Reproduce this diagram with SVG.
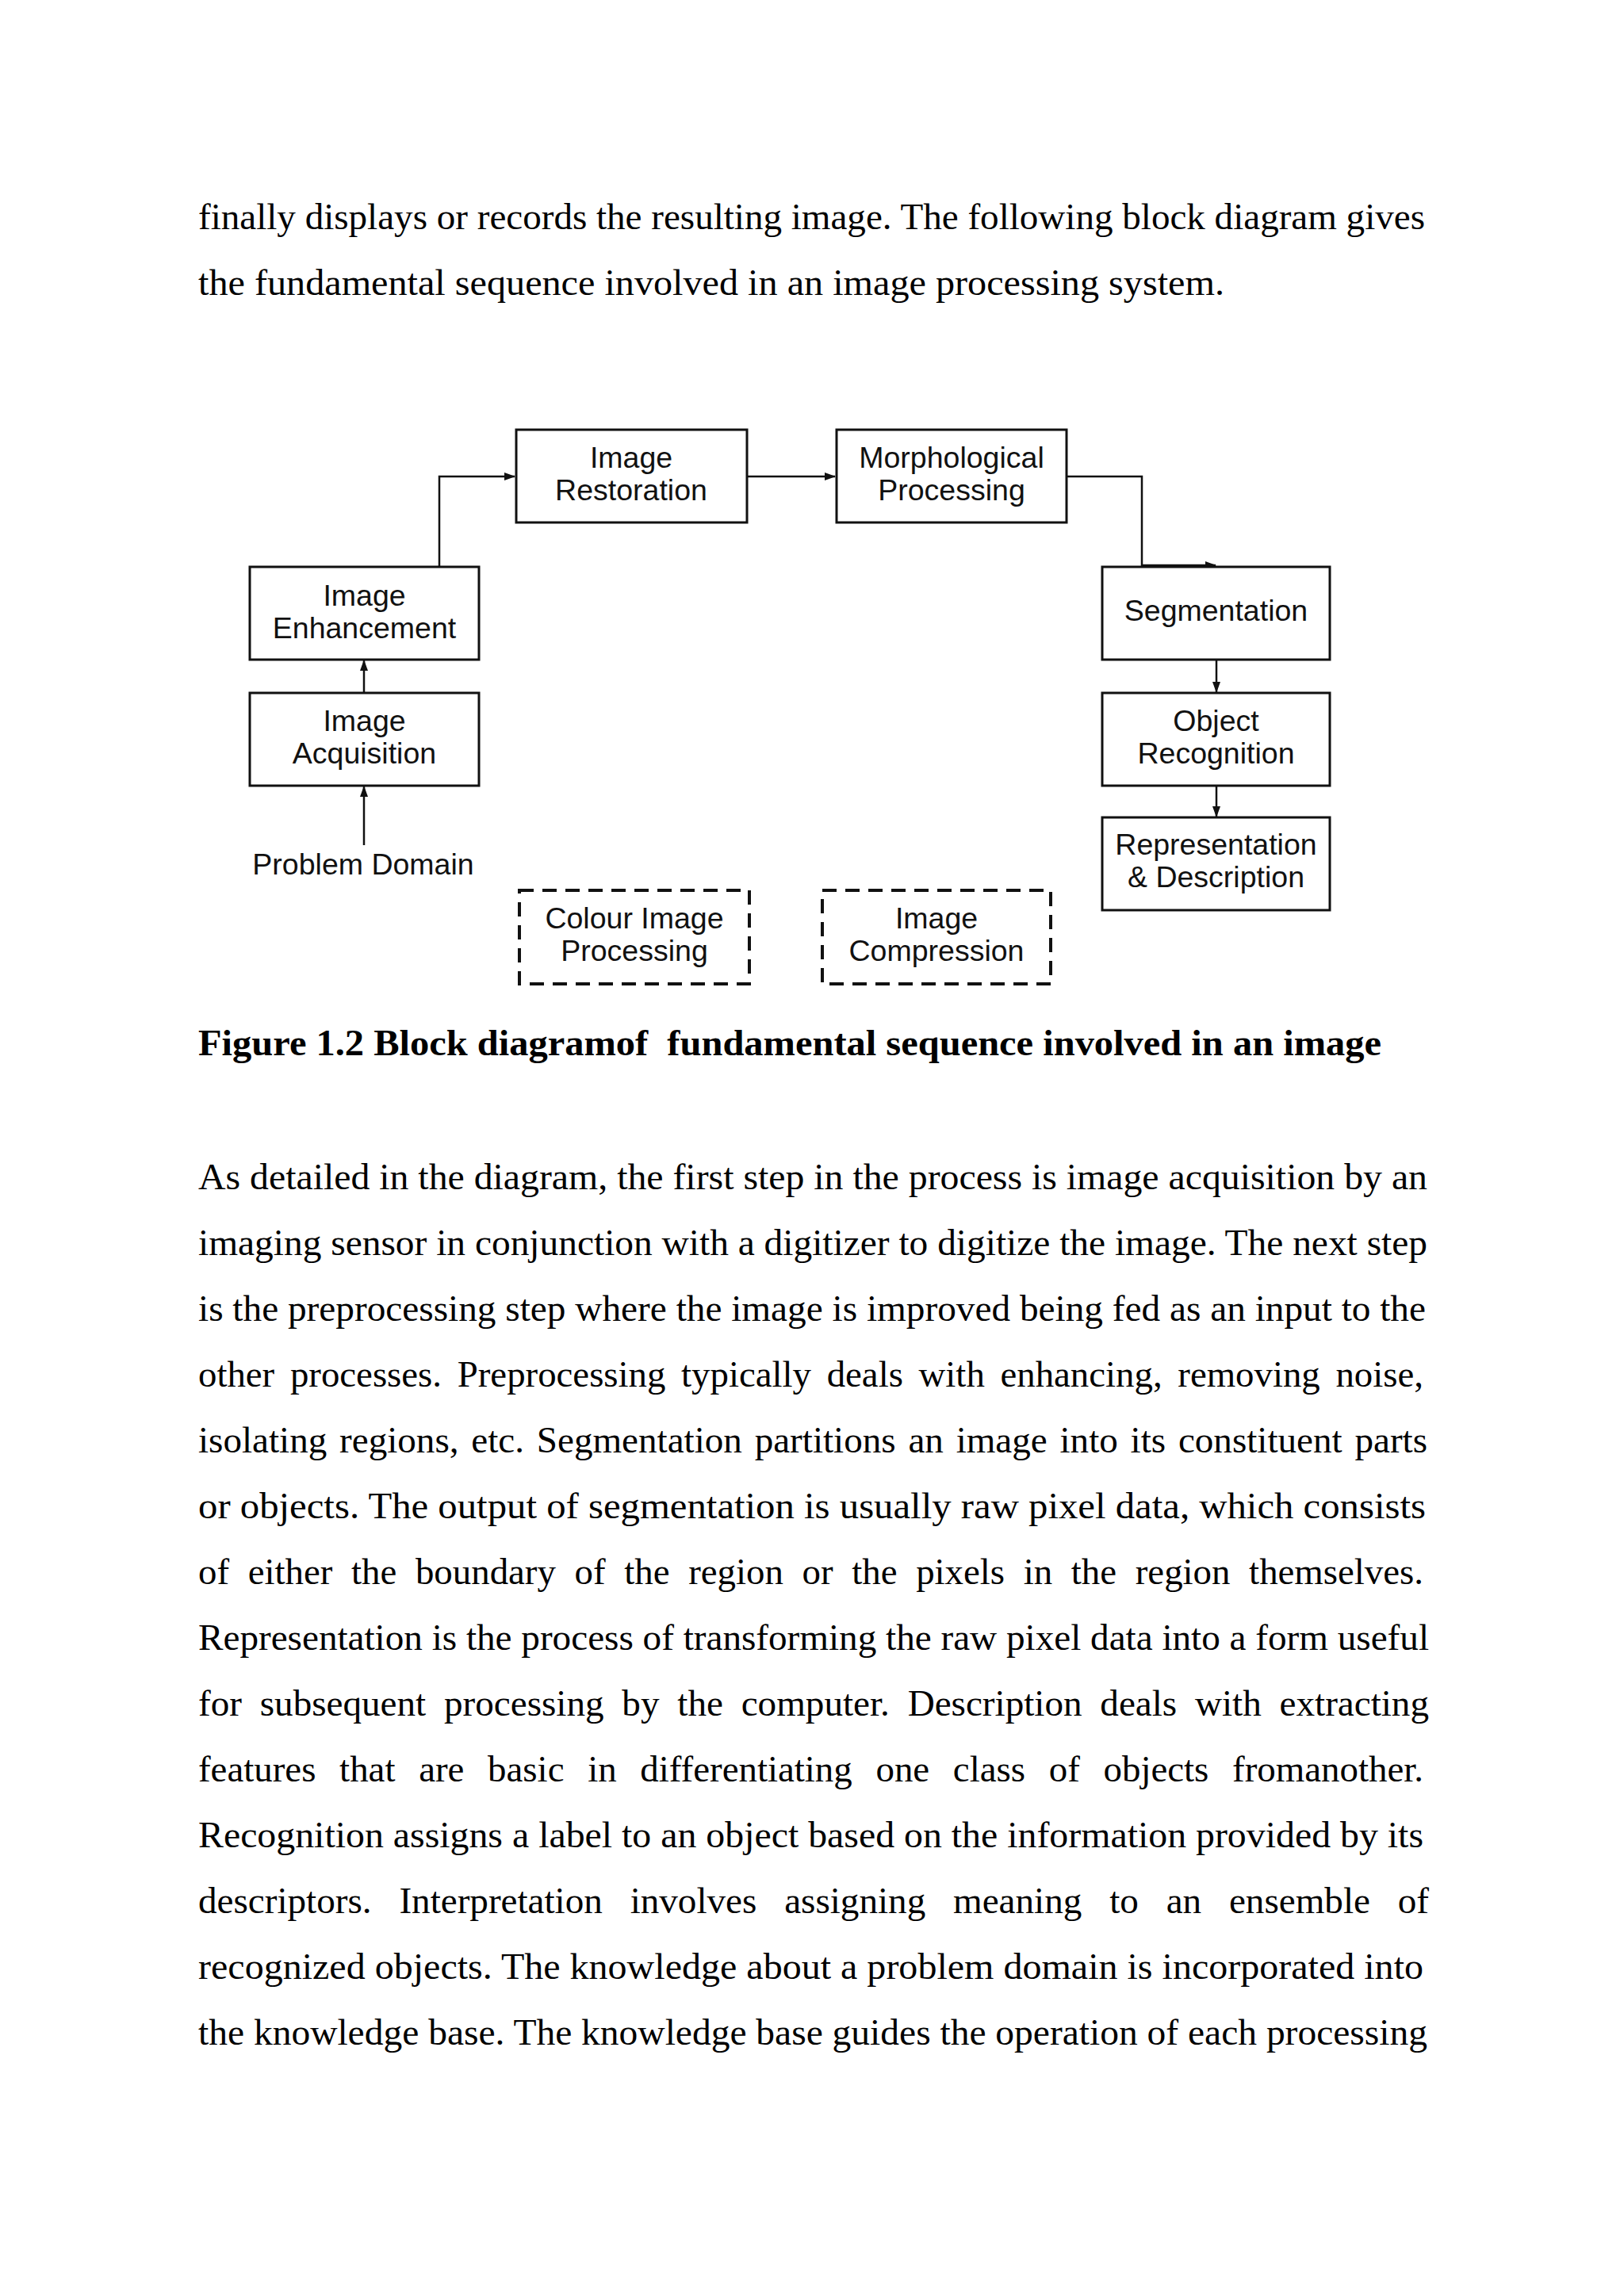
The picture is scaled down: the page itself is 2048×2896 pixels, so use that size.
<svg xmlns="http://www.w3.org/2000/svg" width="2048" height="2896" viewBox="0 0 2048 2896">
<defs>
<style>
.body{font-family:"Liberation Serif","Times New Roman",serif;font-size:47px;fill:#000}
.cap{font-family:"Liberation Serif","Times New Roman",serif;font-size:47px;font-weight:bold;fill:#000;white-space:pre}
.lbl{font-family:"Liberation Sans",Arial,sans-serif;font-size:37.5px;fill:#111;text-anchor:middle}
.box{fill:#fff;stroke:#111;stroke-width:3}
.dbox{fill:none;stroke:#111;stroke-width:4;stroke-dasharray:18 11}
.con{fill:none;stroke:#111;stroke-width:2.5}
</style>
<marker id="arr" markerWidth="14" markerHeight="10" refX="13" refY="5" orient="auto" markerUnits="userSpaceOnUse">
<path d="M0,0 L14,5 L0,10 z" fill="#111"/>
</marker>
</defs>
<rect x="0" y="0" width="2048" height="2896" fill="#fff"/>

<g id="intro-text">
<text class="body" x="250" y="289" textLength="1547" lengthAdjust="spacingAndGlyphs">finally displays or records the resulting image. The following block diagram gives</text>
<text class="body" x="250" y="372" textLength="1294" lengthAdjust="spacingAndGlyphs">the fundamental sequence involved in an image processing system.</text>
</g>

<g id="connectors">
<polyline class="con" points="554,715 554,601 649,601" marker-end="url(#arr)"/>
<line class="con" x1="942" y1="601" x2="1053" y2="601" marker-end="url(#arr)"/>
<polyline class="con" points="1345,601 1440,601 1440,713 1533,713" marker-end="url(#arr)"/>
<line class="con" x1="1534" y1="832" x2="1534" y2="873" marker-end="url(#arr)"/>
<line class="con" x1="1534" y1="991" x2="1534" y2="1030" marker-end="url(#arr)"/>
<line class="con" x1="459" y1="874" x2="459" y2="833" marker-end="url(#arr)"/>
<line class="con" x1="459" y1="1066" x2="459" y2="992" marker-end="url(#arr)"/>
</g>

<g id="image-restoration">
<rect class="box" x="651" y="542" width="291" height="117"/>
<text class="lbl" x="796" y="590">Image</text>
<text class="lbl" x="796" y="631">Restoration</text>
</g>

<g id="morphological-processing">
<rect class="box" x="1055" y="542" width="290" height="117"/>
<text class="lbl" x="1200" y="590">Morphological</text>
<text class="lbl" x="1200" y="631">Processing</text>
</g>

<g id="image-enhancement">
<rect class="box" x="315" y="715" width="289" height="117"/>
<text class="lbl" x="459.5" y="764">Image</text>
<text class="lbl" x="459.5" y="805">Enhancement</text>
</g>

<g id="image-acquisition">
<rect class="box" x="315" y="874" width="289" height="117"/>
<text class="lbl" x="459.5" y="922">Image</text>
<text class="lbl" x="459.5" y="963">Acquisition</text>
</g>

<g id="segmentation">
<rect class="box" x="1390" y="715" width="287" height="117"/>
<text class="lbl" x="1533.5" y="783">Segmentation</text>
</g>

<g id="object-recognition">
<rect class="box" x="1390" y="874" width="287" height="117"/>
<text class="lbl" x="1533.5" y="922">Object</text>
<text class="lbl" x="1533.5" y="963">Recognition</text>
</g>

<g id="representation-description">
<rect class="box" x="1390" y="1031" width="287" height="117"/>
<text class="lbl" x="1533.5" y="1078">Representation</text>
<text class="lbl" x="1533.5" y="1119">&amp; Description</text>
</g>

<g id="problem-domain">
<text class="lbl" x="458" y="1103">Problem Domain</text>
</g>

<g id="colour-image-processing">
<rect class="dbox" x="655" y="1123" width="290" height="118"/>
<text class="lbl" x="800" y="1171">Colour Image</text>
<text class="lbl" x="800" y="1212">Processing</text>
</g>

<g id="image-compression">
<rect class="dbox" x="1037" y="1123" width="288" height="118"/>
<text class="lbl" x="1181" y="1171">Image</text>
<text class="lbl" x="1181" y="1212">Compression</text>
</g>

<g id="caption">
<text class="cap" x="250" y="1331" textLength="1492" lengthAdjust="spacingAndGlyphs">Figure 1.2 Block diagramof  fundamental sequence involved in an image</text>
</g>

<g id="paragraph">
<text class="body" x="250" y="1500" textLength="1550" lengthAdjust="spacingAndGlyphs">As detailed in the diagram, the first step in the process is image acquisition by an</text>
<text class="body" x="250" y="1583" textLength="1550" lengthAdjust="spacingAndGlyphs">imaging sensor in conjunction with a digitizer to digitize the image. The next step</text>
<text class="body" x="250" y="1666" textLength="1548" lengthAdjust="spacingAndGlyphs">is the preprocessing step where the image is improved being fed as an input to the</text>
<text class="body" x="250" y="1749" textLength="1545" lengthAdjust="spacingAndGlyphs" word-spacing="8">other processes. Preprocessing typically deals with enhancing, removing noise,</text>
<text class="body" x="250" y="1832" textLength="1550" lengthAdjust="spacingAndGlyphs" word-spacing="4">isolating regions, etc. Segmentation partitions an image into its constituent parts</text>
<text class="body" x="250" y="1915" textLength="1548" lengthAdjust="spacingAndGlyphs">or objects. The output of segmentation is usually raw pixel data, which consists</text>
<text class="body" x="250" y="1998" textLength="1545" lengthAdjust="spacingAndGlyphs" word-spacing="12">of either the boundary of the region or the pixels in the region themselves.</text>
<text class="body" x="250" y="2081" textLength="1552" lengthAdjust="spacingAndGlyphs">Representation is the process of transforming the raw pixel data into a form useful</text>
<text class="body" x="250" y="2164" textLength="1552" lengthAdjust="spacingAndGlyphs" word-spacing="11">for subsequent processing by the computer. Description deals with extracting</text>
<text class="body" x="250" y="2247" textLength="1545" lengthAdjust="spacingAndGlyphs" word-spacing="18">features that are basic in differentiating one class of objects fromanother.</text>
<text class="body" x="250" y="2330" textLength="1545" lengthAdjust="spacingAndGlyphs">Recognition assigns a label to an object based on the information provided by its</text>
<text class="body" x="250" y="2413" textLength="1552" lengthAdjust="spacingAndGlyphs" word-spacing="23">descriptors. Interpretation involves assigning meaning to an ensemble of</text>
<text class="body" x="250" y="2496" textLength="1545" lengthAdjust="spacingAndGlyphs">recognized objects. The knowledge about a problem domain is incorporated into</text>
<text class="body" x="250" y="2579" textLength="1550" lengthAdjust="spacingAndGlyphs">the knowledge base. The knowledge base guides the operation of each processing</text>
</g>
</svg>
